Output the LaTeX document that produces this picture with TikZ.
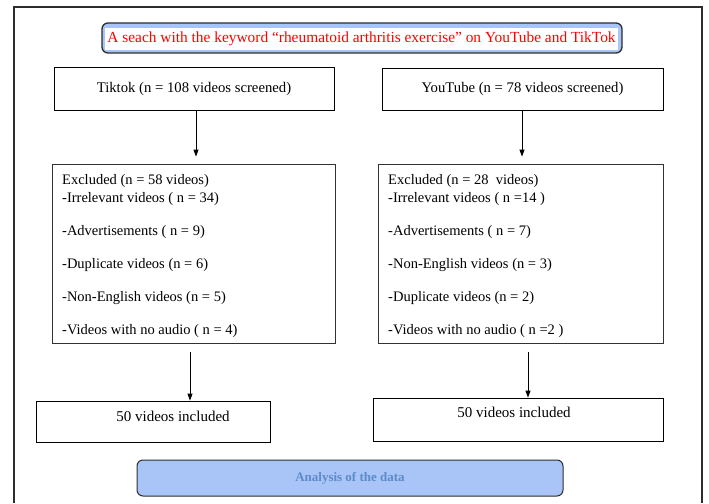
\documentclass[tikz,border=0pt]{standalone}
\usepackage{fontspec}
\setmainfont{Liberation Serif}
\usetikzlibrary{arrows.meta,calc}
\definecolor{lightblue}{RGB}{169,197,247}
\definecolor{analysistext}{RGB}{93,138,200}
\definecolor{framegray}{RGB}{45,45,45}
\begin{document}
\begin{tikzpicture}[x=1pt,y=-1pt,
  every node/.style={font=\fontsize{14.7}{17.6}\selectfont},
  plainbox/.style={draw=black,line width=0.8pt,inner sep=0pt,align=center},
  roundbox/.style={draw=framegray,line width=1.3pt,rounded corners=6pt,fill=lightblue,inner sep=0pt},
  listtext/.style={font=\fontsize{14.5}{17.6}\selectfont,align=left,inner sep=0pt,anchor=west},
  arr/.style={line width=0.8pt,-{Triangle[length=7pt,width=5pt]}}
]
\useasboundingbox (0,0) rectangle (709,503);
% outer frame
\draw[framegray,line width=2.2pt] (14,503) -- (14,7) -- (702,7) -- (702,503);

% search box
\node[roundbox,minimum width=520pt,minimum height=30pt] (search) at (362,38) {};
\node[fill=white,text=red,inner xsep=2pt,inner ysep=1pt,minimum height=22pt,
      font=\fontsize{15.4}{18}\selectfont] (searchtext) at (361.5,39)
  {A seach with the keyword “rheumatoid arthritis exercise” on YouTube and TikTok};

% screened
\node[plainbox,minimum width=280pt,minimum height=43pt] (tiktok) at (194,88.5)
  {Tiktok (n = 108 videos screened)};
\node[plainbox,minimum width=281pt,minimum height=42pt] (youtube) at (522.5,89)
  {YouTube (n = 78 videos screened)};

% excluded
\node[plainbox,draw=black!80,minimum width=283pt,minimum height=179pt] (exclL) at (193.5,253.5) {};
\node[listtext] (exclLtext) at (62,256)
  {Excluded (n = 58 videos)\\[0pt]
   -Irrelevant videos ( n = 34)\\[15.5pt]
   -Advertisements ( n = 9)\\[15.5pt]
   -Duplicate videos (n = 6)\\[15.5pt]
   -Non-English videos (n = 5)\\[15.5pt]
   -Videos with no audio ( n = 4)};
\node[plainbox,draw=black!80,minimum width=285pt,minimum height=179pt] (exclR) at (520.5,253.5) {};
\node[listtext] (exclRtext) at (388,256)
  {Excluded (n = 28\ \ videos)\\[0pt]
   -Irrelevant videos ( n =14 )\\[15.5pt]
   -Advertisements ( n = 7)\\[15.5pt]
   -Non-English videos (n = 3)\\[15.5pt]
   -Duplicate videos (n = 2)\\[15.5pt]
   -Videos with no audio ( n =2 )};

% included
\node[plainbox,minimum width=234pt,minimum height=41pt] (inclL) at (153,421.5) {};
\node[font=\fontsize{15}{18}\selectfont] (inclLtext) at (173,416) {50 videos included};
\node[plainbox,minimum width=290pt,minimum height=43pt] (inclR) at (518,419.5) {};
\node[font=\fontsize{15}{18}\selectfont] (inclRtext) at (514,412) {50 videos included};

% analysis
\node[roundbox,line width=1pt,minimum width=426pt,minimum height=36pt,
      font=\fontsize{13}{15.6}\selectfont\bfseries,text=analysistext] (analysis) at (350,478)
  {Analysis of the data};

% arrows
\coordinate (xa) at (196,0);
\coordinate (xb) at (522,0);
\coordinate (xc) at (190,0);
\coordinate (xd) at (528,0);
\draw[arr,shorten >=7pt] (tiktok.south -| xa) -- (exclL.north -| xa);
\draw[arr,shorten >=7pt] (youtube.south -| xb) -- (exclR.north -| xb);
\draw[arr,shorten <=9pt] (exclL.south -| xc) -- (inclL.north -| xc);
\draw[arr,shorten <=9pt] (exclR.south -| xd) -- (inclR.north -| xd);
\end{tikzpicture}
\end{document}
